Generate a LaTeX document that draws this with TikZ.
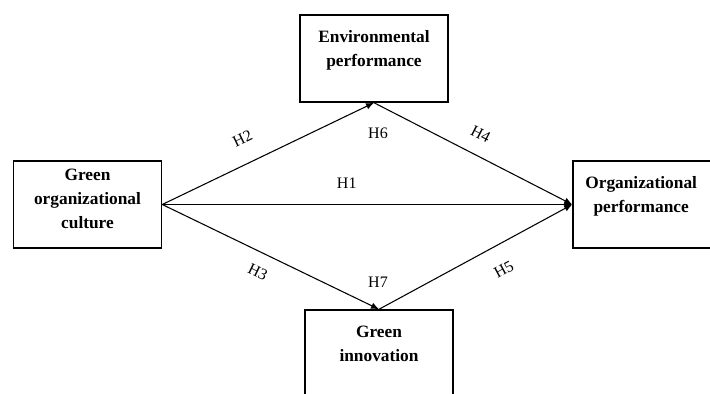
\documentclass[tikz,border=0pt]{standalone}
\usepackage{fontspec}
\setmainfont{Liberation Serif}
\usetikzlibrary{arrows.meta,positioning}

\begin{document}
\begin{tikzpicture}[
    x=0.75pt, y=-0.75pt,
    box/.style={draw, line width=1.1pt, minimum width=111pt, minimum height=65.25pt, inner sep=0pt},
    boxtext/.style={font=\fontsize{13}{18}\selectfont\bfseries, align=center, inner sep=0pt, anchor=north},
    link/.style={-{Latex[length=6pt,width=5pt]}, line width=0.8pt},
    hyp/.style={font=\fontsize{12}{14}\selectfont, inner sep=0pt}
]
\useasboundingbox (0,0) rectangle (710,393);

% boxes
\node[box] (env) at (374,58.5) {};
\node[box] (goc) at (87.5,204.5) {};
\node[box, minimum width=104.25pt] (op) at (642.5,204.5) {};
\node[box] (gi) at (379,353.5) {};

\node[boxtext, below=12pt of env.north] (envtxt) {Environmental\\performance};
\node[boxtext, below=6.5pt of goc.north] (goctxt) {Green\\organizational\\culture};
\node[boxtext, below=12pt of op.north, xshift=-1pt] (optxt) {Organizational\\performance};
\node[boxtext, below=12.5pt of gi.north] (gitxt) {Green\\innovation};

% paths
\draw[link] (goc.east) -- node[hyp, sloped, above=14.5pt, pos=0.43] (h2) {H2} (env.south);
\draw[link, line width=1.4pt] (goc.east) -- node[hyp, above=11pt, pos=0.45] (h1) {H1} (op.west);
\draw[link] (goc.east) -- node[hyp, sloped, below=10pt, pos=0.48] (h3) {H3} (gi.north);
\draw[link] (env.south) -- node[hyp, sloped, above=11.5pt, pos=0.49] (h4) {H4} (op.west);
\draw[link] (gi.north) -- node[hyp, sloped, below=14pt, pos=0.585] (h5) {H5} (op.west);

\node[hyp] (h6) at (378,133) {H6};
\node[hyp] (h7) at (378,282) {H7};
\end{tikzpicture}
\end{document}
